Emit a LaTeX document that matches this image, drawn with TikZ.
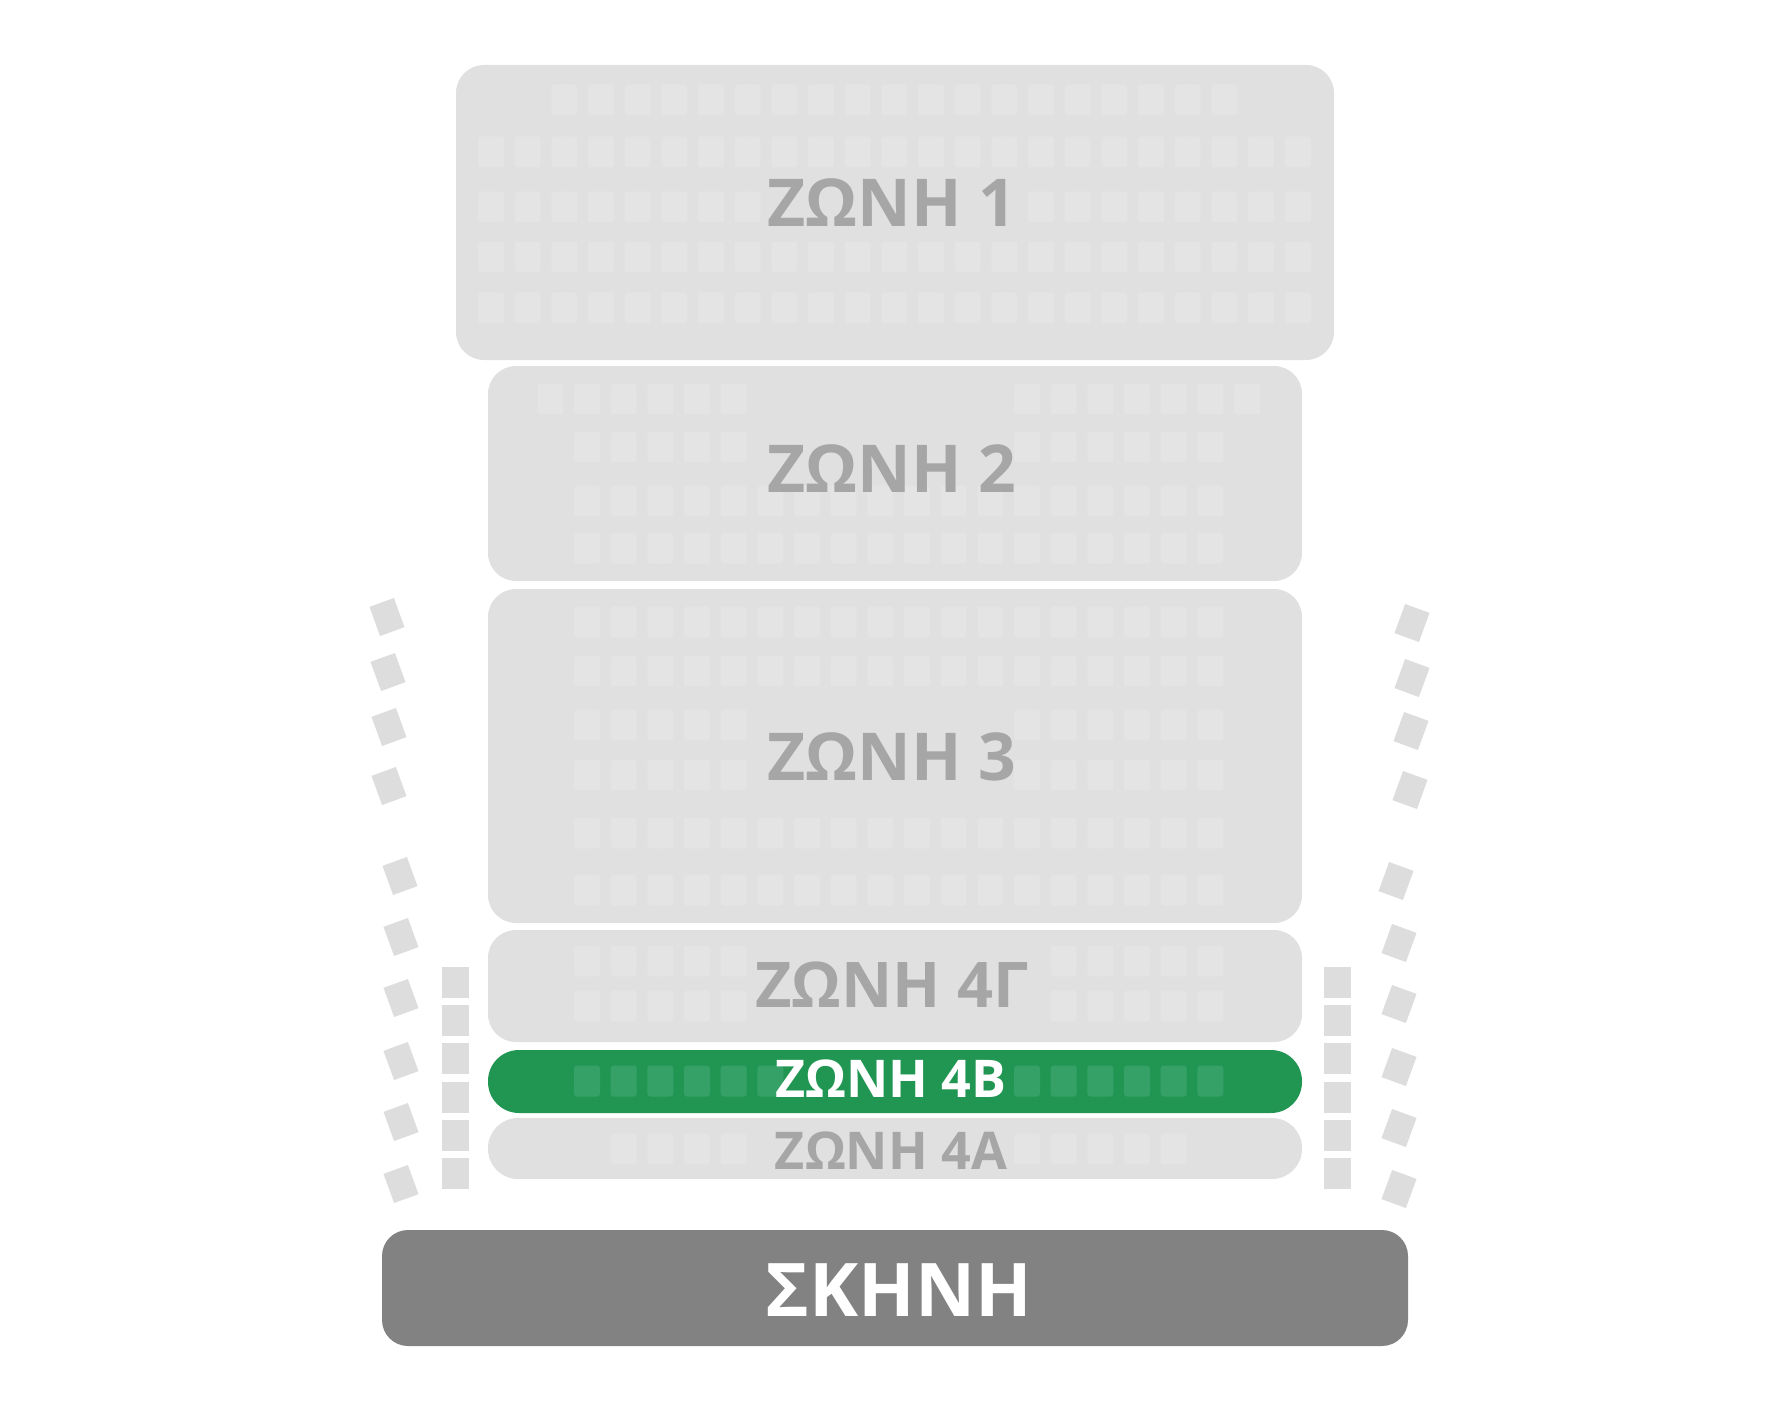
\documentclass[tikz,border=0pt]{standalone}
\usepackage{fontspec}
\setmainfont{Open Sans}
\definecolor{zonegray}{HTML}{E0E0E0}
\definecolor{seatgray}{HTML}{E4E4E4}
\definecolor{sidegray}{HTML}{DDDDDD}
\definecolor{labelgray}{HTML}{A6A6A6}
\definecolor{zgreen}{HTML}{219653}
\definecolor{seatgreen}{HTML}{36A167}
\definecolor{stagegray}{HTML}{828282}
\newcommand\seatrow[5]{% style, base x, y, from k, to k
  \foreach \k in {#4,...,#5} {\fill[#1] ({#2+36.67*\k-13},{#3-15.5}) rectangle ++(26,31);}}
\newcommand\tiltseat[3]{% x, y, angle
  \fill[sideseat, rotate around={#3:(#1,#2)}] ({#1-13},{#2-15.5}) rectangle ++(26,31);}
\begin{document}
\begin{tikzpicture}[x=0.5pt,y=-0.5pt,
  zonebox/.style={fill=zonegray, rounded corners=14pt},
  seatA/.style={fill=seatgray, rounded corners=1.5pt},
  seatG/.style={fill=seatgreen, rounded corners=1.5pt},
  sideseat/.style={fill=sidegray},
  lbl/.style={anchor=base, inner sep=0pt, text=labelgray, font=\bfseries\fontsize{33pt}{40pt}\selectfont},
  wlbl/.style={lbl, text=white}]
\useasboundingbox (0,0) rectangle (1783,1412);
\fill[white] (0,0) rectangle (1783,1412);
% zones
\fill[zonebox] (456,65) rectangle (1334,360);
\fill[zonebox] (488,366) rectangle (1302,581);
\fill[zonebox] (488,589) rectangle (1302,923);
\fill[zonebox] (488,930) rectangle (1302,1042);
\fill[zgreen, rounded corners=15.5pt] (488,1050) rectangle (1302,1113);
\fill[zonegray, rounded corners=15pt] (488,1118) rectangle (1302,1179);
\fill[stagegray, rounded corners=13pt] (382,1230) rectangle (1408,1346);
% zone 1 seats
\seatrow{seatA}{491}{100}{2}{20}
\seatrow{seatA}{491}{152}{0}{22}
\seatrow{seatA}{491}{207}{0}{7}
\seatrow{seatA}{491}{207}{15}{22}
\seatrow{seatA}{491}{257}{0}{22}
\seatrow{seatA}{491}{308}{0}{22}
% zone 2 seats
\seatrow{seatA}{587}{399}{-1}{4}
\seatrow{seatA}{587}{399}{12}{18}
\seatrow{seatA}{587}{447}{0}{4}
\seatrow{seatA}{587}{447}{12}{17}
\seatrow{seatA}{587}{501}{0}{17}
\seatrow{seatA}{587}{548}{0}{17}
% zone 3 seats
\seatrow{seatA}{587}{622}{0}{17}
\seatrow{seatA}{587}{671}{0}{17}
\seatrow{seatA}{587}{725}{0}{4}
\seatrow{seatA}{587}{725}{12}{17}
\seatrow{seatA}{587}{775}{0}{4}
\seatrow{seatA}{587}{775}{12}{17}
\seatrow{seatA}{587}{833}{0}{17}
\seatrow{seatA}{587}{890}{0}{17}
% zone 4G seats
\seatrow{seatA}{587}{961}{0}{4}
\seatrow{seatA}{587}{961}{13}{17}
\seatrow{seatA}{587}{1006}{0}{4}
\seatrow{seatA}{587}{1006}{13}{17}
% zone 4B seats
\seatrow{seatG}{587}{1081}{0}{5}
\seatrow{seatG}{587}{1081}{12}{17}
% zone 4A seats
\seatrow{seatA}{587}{1149}{1}{4}
\seatrow{seatA}{587}{1149}{12}{16}
% side vertical columns
\foreach \i in {0,...,5} {
  \fill[sideseat] (442,{967+38.2*\i}) rectangle ++(27,31);
  \fill[sideseat] (1324,{967+38.2*\i}) rectangle ++(27,31);
}
% tilted side seats, left
\tiltseat{387}{617}{20}
\tiltseat{388}{672}{20}
\tiltseat{389}{727}{20}
\tiltseat{389}{786}{20}
\tiltseat{400}{876}{20}
\tiltseat{401}{937}{20}
\tiltseat{401}{998}{20}
\tiltseat{401}{1061}{20}
\tiltseat{401}{1122}{20}
\tiltseat{401}{1184}{20}
% tilted side seats, right
\tiltseat{1412}{623}{-20}
\tiltseat{1412}{678}{-20}
\tiltseat{1411}{731}{-20}
\tiltseat{1410}{790}{-20}
\tiltseat{1396}{881}{-20}
\tiltseat{1399}{943}{-20}
\tiltseat{1399}{1004}{-20}
\tiltseat{1399}{1067}{-20}
\tiltseat{1399}{1128}{-20}
\tiltseat{1399}{1189}{-20}
% labels
\node[lbl] (t1) at (892,227) {ΖΩΝΗ 1};
\node[lbl] (t2) at (892,492) {ΖΩΝΗ 2};
\node[lbl] (t3) at (892,780) {ΖΩΝΗ 3};
\node[lbl, font=\bfseries\fontsize{31.5pt}{36pt}\selectfont] (t4g) at (892,1007) {ΖΩΝΗ 4Γ};
\node[wlbl, font=\bfseries\fontsize{26pt}{30pt}\selectfont] (t4b) at (891,1097) {ΖΩΝΗ 4Β};
\node[lbl, font=\bfseries\fontsize{26pt}{30pt}\selectfont] (t4a) at (891,1169) {ΖΩΝΗ 4Α};
\node[wlbl, font=\bfseries\fontsize{37pt}{44pt}\selectfont] (stage) at (899,1316) {ΣΚΗΝΗ};
\end{tikzpicture}
\end{document}
